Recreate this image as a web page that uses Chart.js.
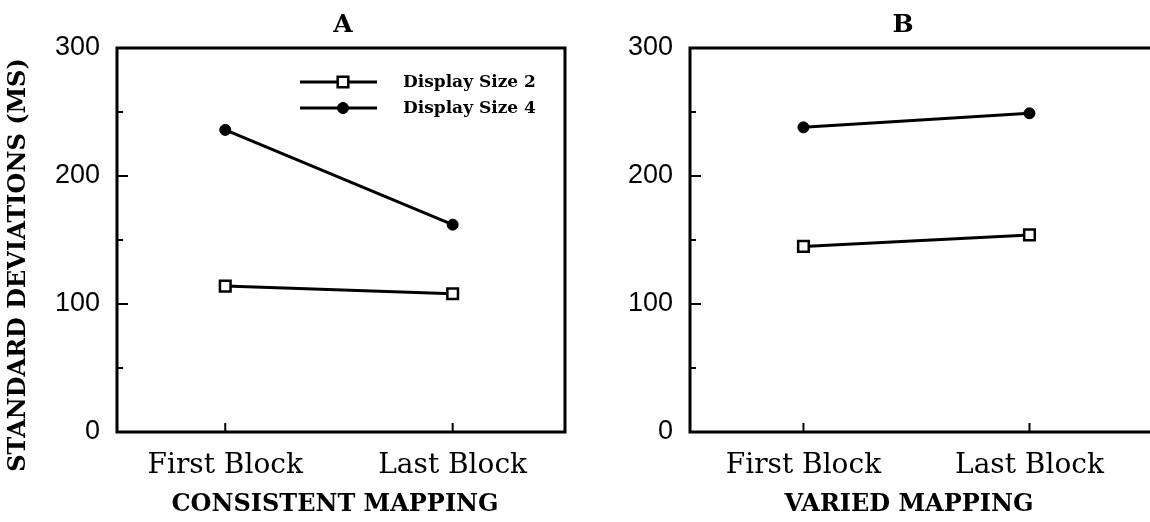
<!DOCTYPE html>
<html>
<head>
<meta charset="utf-8">
<script src="https://cdn.jsdelivr.net/npm/chart.js@4.4.1/dist/chart.umd.min.js"></script>
<style>
  html, body { margin: 0; padding: 0; background: #fff; }
  #wrap { position: relative; width: 1150px; height: 522px; overflow: hidden; }
  .pane { position: absolute; top: 0; width: 575px; height: 522px; }
  #paneA { left: 0; }
  #paneB { left: 575px; }
</style>
</head>
<body>
<div id="wrap">
  <div class="pane" id="paneA"><canvas id="chartA" width="575" height="522"></canvas></div>
  <div class="pane" id="paneB"><canvas id="chartB" width="575" height="522"></canvas></div>
</div>
<script>
// Block labels on the x axis
const blockLabels = ['First Block', 'Last Block'];
// Y axis tick values
const yTicks = [0, 100, 200, 300];
const yMinorTicks = [50, 150, 250];
// Series names
const seriesNames = ['Display Size 2', 'Display Size 4'];

// Consistent mapping (panel A), SD in ms
const consistentSize2 = [114, 108];
const consistentSize4 = [236, 162];
// Varied mapping (panel B), SD in ms
const variedSize2 = [145, 154];
const variedSize4 = [238, 249];

const serif = "'DejaVu Serif', 'Liberation Serif', serif";
const narrow = "'Liberation Sans Narrow', 'Liberation Sans', Arial, sans-serif";

function seriesData(vals) {
  return vals.map((v, i) => ({ x: i, y: v }));
}

// Frame, inward ticks, panel letter, axis titles and legend
const decorations = {
  id: 'decorations',
  afterDraw(chart, args, opts) {
    const ctx = chart.ctx;
    const a = chart.chartArea;
    const ys = chart.scales.y, xs = chart.scales.x;
    ctx.save();
    ctx.strokeStyle = '#000';
    ctx.lineWidth = 3;
    ctx.lineCap = 'square';
    ctx.beginPath();
    ctx.moveTo(a.right + (opts.openRight ? 10 : 0), a.top);
    ctx.lineTo(a.left, a.top);
    ctx.lineTo(a.left, a.bottom);
    ctx.lineTo(a.right + (opts.openRight ? 10 : 0), a.bottom);
    if (!opts.openRight) ctx.lineTo(a.right, a.top);
    ctx.stroke();

    ctx.lineWidth = 2;
    ctx.lineCap = 'butt';
    ctx.beginPath();
    yTicks.slice(1, -1).forEach(v => {
      const py = ys.getPixelForValue(v);
      ctx.moveTo(a.left, py); ctx.lineTo(a.left + 11, py);
    });
    yMinorTicks.forEach(v => {
      const py = ys.getPixelForValue(v);
      ctx.moveTo(a.left, py); ctx.lineTo(a.left + 6, py);
    });
    blockLabels.forEach((_, i) => {
      const px = xs.getPixelForValue(i);
      ctx.moveTo(px, a.bottom); ctx.lineTo(px, a.bottom - 9);
    });
    ctx.stroke();

    ctx.fillStyle = '#000';
    ctx.textAlign = 'center';
    ctx.textBaseline = 'middle';
    ctx.font = 'bold 25px ' + serif;
    ctx.fillText(opts.letter, opts.letterX, 25);
    ctx.font = 'bold 24px ' + serif;
    ctx.fillText(opts.xTitle, opts.xTitleX, 505);

    if (opts.yTitle) {
      ctx.save();
      ctx.translate(19, 265);
      ctx.rotate(-Math.PI / 2);
      ctx.font = 'bold 24px ' + serif;
      ctx.fillText(opts.yTitle, 0, 0);
      ctx.restore();
    }

    if (opts.legend) {
      const rows = [82, 108];
      chart.data.datasets.forEach((ds, i) => {
        const y = rows[i];
        ctx.strokeStyle = '#000';
        ctx.lineWidth = 3;
        ctx.beginPath();
        ctx.moveTo(300, y); ctx.lineTo(377, y);
        ctx.stroke();
        ctx.fillStyle = ds.pointBackgroundColor;
        ctx.lineWidth = ds.pointBorderWidth;
        ctx.beginPath();
        if (ds.pointStyle === 'rect') {
          const s = Math.SQRT1_2 * ds.pointRadius;
          ctx.rect(343 - s, y - s, 2 * s, 2 * s);
        } else {
          ctx.arc(343, y, ds.pointRadius, 0, Math.PI * 2);
        }
        ctx.fill(); ctx.stroke();
        ctx.fillStyle = '#000';
        ctx.textAlign = 'left';
        ctx.font = 'bold 17px ' + serif;
        ctx.fillText(ds.label, 403, y + 1);
      });
    }
    ctx.restore();
  }
};

function makeChart(id, size2, size4, cfg) {
  return new Chart(document.getElementById(id), {
    type: 'line',
    data: {
      datasets: [
        {
          label: seriesNames[0], data: seriesData(size2),
          borderColor: '#000', borderWidth: 3,
          pointStyle: 'rect', pointRadius: 7.5, pointBorderWidth: 2.5,
          pointBackgroundColor: '#fff', pointBorderColor: '#000'
        },
        {
          label: seriesNames[1], data: seriesData(size4),
          borderColor: '#000', borderWidth: 3,
          pointStyle: 'circle', pointRadius: 5.5, pointBorderWidth: 1,
          pointBackgroundColor: '#000', pointBorderColor: '#000'
        }
      ]
    },
    options: {
      responsive: false,
      animation: false,
      layout: { padding: { top: 48, right: cfg.padRight, left: 0, bottom: cfg.padBottom } },
      plugins: {
        legend: { display: false },
        tooltip: { enabled: false },
        decorations: cfg.deco
      },
      scales: {
        x: {
          type: 'linear', min: cfg.xMin, max: cfg.xMax,
          grid: { display: false, drawTicks: false },
          border: { display: false },
          afterBuildTicks: s => { s.ticks = blockLabels.map((_, i) => ({ value: i })); },
          afterFit: s => { s.height = 90 - cfg.padBottom; },
          ticks: {
            callback: v => blockLabels[v],
            color: '#000', padding: 17, maxRotation: 0,
            font: { family: serif, size: 28 }
          }
        },
        y: {
          min: 0, max: 300,
          grid: { display: false, drawTicks: false },
          border: { display: false },
          afterBuildTicks: s => { s.ticks = yTicks.map(v => ({ value: v })); },
          afterFit: s => { s.width = cfg.yWidth; },
          ticks: {
            color: '#000', padding: 17,
            font: { family: narrow, size: 27 }
          }
        }
      }
    },
    plugins: [decorations]
  });
}

makeChart('chartA', consistentSize2, consistentSize4, {
  padRight: 7, padBottom: 0, yWidth: 117, xMin: -0.476, xMax: 1.494,
  deco: { letter: 'A', letterX: 343, xTitle: 'CONSISTENT MAPPING', xTitleX: 335,
          yTitle: 'STANDARD DEVIATIONS (MS)', legend: true, openRight: false }
});
makeChart('chartB', variedSize2, variedSize4, {
  padRight: 0, padBottom: 1, yWidth: 115, xMin: -0.502, xMax: 1.489,
  deco: { letter: 'B', letterX: 328, xTitle: 'VARIED MAPPING', xTitleX: 334,
          yTitle: null, legend: false, openRight: true }
});
</script>
</body>
</html>
